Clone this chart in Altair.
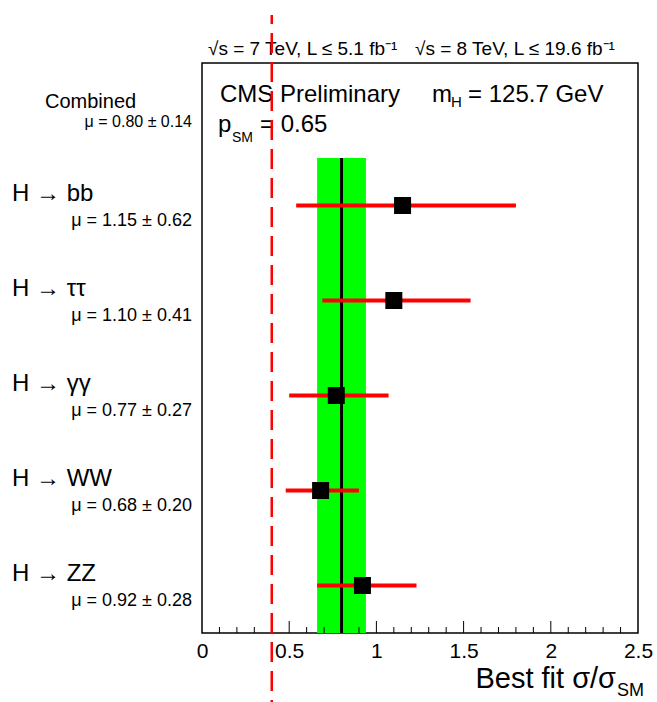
import altair as alt
import pandas as pd

# ---- data ----
channels = ["H → ZZ", "H → WW", "H → γγ", "H → ττ", "H → bb"]
mu_best = [0.92, 0.68, 0.77, 1.10, 1.15]
mu_low = [0.66, 0.48, 0.50, 0.69, 0.54]
mu_high = [1.23, 0.90, 1.07, 1.54, 1.80]
mu_err = [0.28, 0.20, 0.27, 0.41, 0.62]
comb_mu = 0.80
comb_err = 0.14
ref_line = 0.40
x_major = [0.5, 1.0, 1.5, 2.0]
x_minor = [0.1, 0.2, 0.3, 0.4, 0.6, 0.7, 0.8, 0.9, 1.1, 1.2, 1.3, 1.4,
           1.6, 1.7, 1.8, 1.9, 2.1, 2.2, 2.3, 2.4]
x_labels = [0, 0.5, 1, 1.5, 2, 2.5]

FONT = "Liberation Sans"
W, H = 436, 570

df = pd.DataFrame({
    "channel": channels,
    "mu": mu_best,
    "lo": mu_low,
    "hi": mu_high,
    "slot": [i + 0.5 for i in range(len(channels))],
    "mutext": [f"μ = {m:.2f} ± {e:.2f}" for m, e in zip(mu_best, mu_err)],
})
nrows = len(channels)

xs = alt.Scale(domain=[0, 2.5], nice=False, zero=False)
ys = alt.Scale(domain=[0, nrows + 1], nice=False, zero=False)


def X(field):
    return alt.X(field, scale=xs, title=None)


def Y(field):
    return alt.Y(field, scale=ys, axis=None)


band = alt.Chart(pd.DataFrame({"lo": [comb_mu - comb_err], "hi": [comb_mu + comb_err],
                               "y0": [0], "y1": [nrows]})).mark_rect(color="#00ff00").encode(
    x=alt.X("lo:Q", scale=xs, title=None,
            axis=alt.Axis(values=x_labels, format="~g", ticks=False, domain=False,
                          grid=False, labelFontSize=21, labelPadding=7,
                          labelFont=FONT, labelColor="black", title=None,
                          labelFlush=False, labelOverlap=False)),
    x2="hi:Q",
    y=Y("y0:Q"),
    y2="y1:Q",
)

comb_line = alt.Chart(pd.DataFrame({"m": [comb_mu], "y0": [0], "y1": [nrows]})).mark_rule(
    color="black", strokeWidth=3).encode(x=X("m:Q"), y=Y("y0:Q"), y2="y1:Q")

bars = alt.Chart(df).mark_rule(color="#ff0000", strokeWidth=4).encode(
    x=X("lo:Q"), x2="hi:Q", y=Y("slot:Q"))

pts = alt.Chart(df).mark_point(shape="square", filled=True, size=289, color="black", opacity=1).encode(
    x=X("mu:Q"), y=Y("slot:Q"))

lab = alt.Chart(df).mark_text(align="left", baseline="alphabetic", fontSize=24, dy=-5,
                              font=FONT, color="black").encode(
    x=alt.value(-190), y=Y("slot:Q"), text="channel:N")

mulab = alt.Chart(df).mark_text(align="right", baseline="alphabetic", fontSize=18, dy=20,
                                font=FONT, color="black").encode(
    x=alt.value(-10), y=Y("slot:Q"), text="mutext:N")

comb_df = pd.DataFrame({"slot": [nrows + 0.5], "name": ["Combined"],
                        "mutext": [f"μ = {comb_mu:.2f} ± {comb_err:.2f}"]})
comb_lab = alt.Chart(comb_df).mark_text(align="left", baseline="alphabetic", fontSize=20, dy=-3,
                                        font=FONT, color="black").encode(
    x=alt.value(-157), y=Y("slot:Q"), text="name:N")
comb_mulab = alt.Chart(comb_df).mark_text(align="right", baseline="alphabetic", fontSize=16, dy=16,
                                          font=FONT, color="black").encode(
    x=alt.value(-10), y=Y("slot:Q"), text="mutext:N")

dash = alt.Chart(pd.DataFrame({"x": [ref_line]})).mark_rule(
    color="#ff0000", strokeWidth=2.5, strokeDash=[20, 9], strokeDashOffset=11, clip=False).encode(
    x=X("x:Q"), y=alt.value(-48), y2=alt.value(639))

tmin = alt.Chart(pd.DataFrame({"t": x_minor})).mark_rule(color="black", strokeWidth=1).encode(
    x=X("t:Q"), y=alt.value(H), y2=alt.value(H - 6))
tmaj = alt.Chart(pd.DataFrame({"t": x_major})).mark_rule(color="black", strokeWidth=1).encode(
    x=X("t:Q"), y=alt.value(H), y2=alt.value(H - 12))


def txt(s, x, y, size, align="left"):
    return alt.Chart(pd.DataFrame({"t": [s]})).mark_text(
        align=align, baseline="alphabetic", fontSize=size, font=FONT, color="black").encode(
        x=alt.value(x), y=alt.value(y), text="t:N")


annots = [
    txt("√s = 7 TeV, L ≤ 5.1 fb⁻¹", 6, -8, 19),
    txt("√s = 8 TeV, L ≤ 19.6 fb⁻¹", 213, -8, 19),
    txt("CMS Preliminary", 18, 39, 24),
    txt("m", 230, 39, 24),
    txt("H", 249, 44, 15),
    txt("= 125.7 GeV", 266, 39, 24),
    txt("p", 16, 69, 24),
    txt("SM", 30, 79, 14),
    txt("= 0.65", 58, 69, 24),
    txt("Best fit σ/σ", 414, 625, 29, align="right"),
    txt("SM", 415, 633, 18),
]

chart = alt.layer(band, comb_line, bars, pts, tmin, tmaj, lab, mulab, comb_lab, comb_mulab,
                  *annots, dash).properties(
    width=W, height=H,
    background="white",
    autosize=alt.AutoSizeParams(type="none"),
    padding={"left": 202, "top": 63, "right": 19, "bottom": 69},
).configure_view(stroke="black", strokeWidth=1.5)

chart.save("out.html", embed_options={"renderer": "svg", "actions": False})
